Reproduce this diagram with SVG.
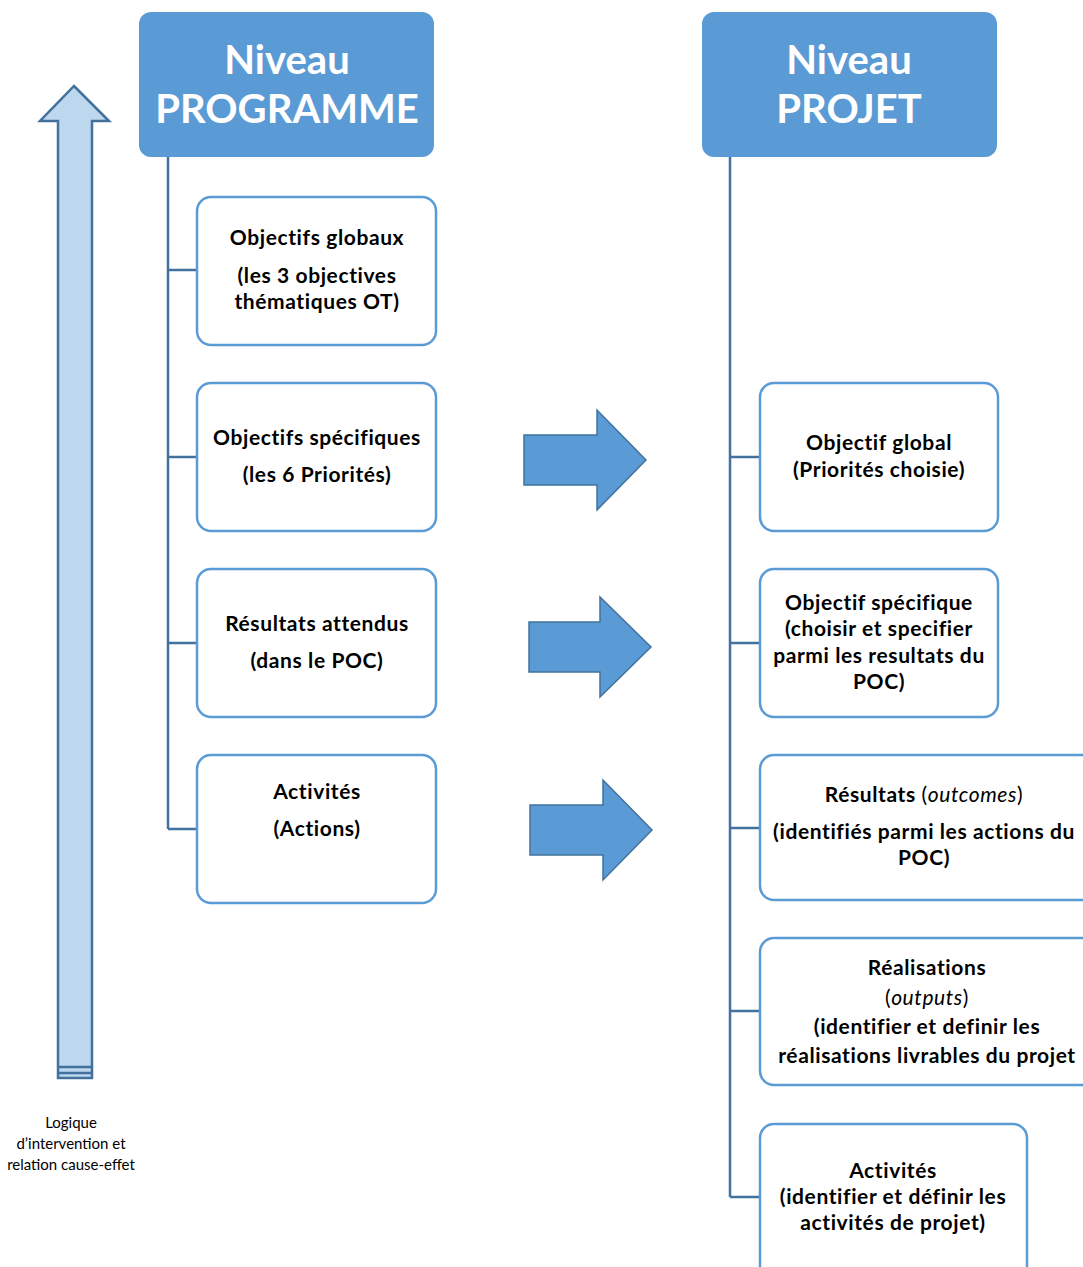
<svg xmlns="http://www.w3.org/2000/svg" width="1083" height="1267" viewBox="0 0 1083 1267">
<style>
.hdr{fill:#5B9BD5;}
.hdrt{font-family:Lato,"Open Sans",sans-serif;font-weight:bold;font-size:40px;fill:#fff;text-anchor:middle;}
.box{fill:#fff;stroke:#5B9BD5;stroke-width:2.5;}
.t{font-family:Lato,"Open Sans",sans-serif;font-weight:bold;font-size:21px;letter-spacing:0.6px;fill:#000;text-anchor:middle;}
.n{font-weight:normal;}
.con{fill:none;stroke:#41719C;stroke-width:2.5;}
.arr{fill:#5B9BD5;stroke:#41719C;stroke-width:1.5;}
.small{font-family:Lato,"Open Sans",sans-serif;font-size:15px;fill:#000;text-anchor:middle;}
</style>
<rect width="1083" height="1267" fill="#fff"/>
<g id="connectors">
<path class="con" d="M168 157V829M168 270H197M168 457H197M168 643H197M168 829H197"/>
<path class="con" d="M730 157V1197M730 457H760M730 643H760M730 828H760M730 1011H760M730 1197H760"/>
</g>
<g id="logic-arrow">
<path d="M74 86L109 121H92V1078H58V121H40Z" fill="#BDD7EE" stroke="#41719C" stroke-width="2.5"/>
<path d="M58 1067H92M58 1073H92" stroke="#41719C" stroke-width="2.5"/>
<text class="small" x="71" y="1128">Logique</text>
<text class="small" x="71" y="1149">d’intervention et</text>
<text class="small" x="71" y="1170">relation cause-effet</text>
</g>
<g id="hdr-programme">
<rect class="hdr" x="139" y="12" width="295" height="145" rx="12"/>
<text class="hdrt" x="287" y="74">Niveau</text>
<text class="hdrt" x="287" y="123">PROGRAMME</text>
</g>
<g id="hdr-projet">
<rect class="hdr" x="702" y="12" width="295" height="145" rx="12"/>
<text class="hdrt" x="849" y="74">Niveau</text>
<text class="hdrt" x="849" y="123">PROJET</text>
</g>
<g id="p1">
<rect class="box" x="197" y="197" width="239" height="148" rx="14"/>
<text class="t" x="317" y="245">Objectifs globaux</text>
<text class="t" x="317" y="283">(les 3 objectives</text>
<text class="t" x="317" y="309">thématiques OT)</text>
</g>
<g id="p2">
<rect class="box" x="197" y="383" width="239" height="148" rx="14"/>
<text class="t" x="317" y="445">Objectifs spécifiques</text>
<text class="t" x="317" y="482">(les 6 Priorités)</text>
</g>
<g id="p3">
<rect class="box" x="197" y="569" width="239" height="148" rx="14"/>
<text class="t" x="317" y="631">Résultats attendus</text>
<text class="t" x="317" y="668">(dans le POC)</text>
</g>
<g id="p4">
<rect class="box" x="197" y="755" width="239" height="148" rx="14"/>
<text class="t" x="317" y="799">Activités</text>
<text class="t" x="317" y="836">(Actions)</text>
</g>
<g id="arrows">
<path class="arr" d="M524 435H597V410L646 460L597 510V485H524Z"/>
<path class="arr" d="M529 622H600V597L651 647L600 697V672H529Z"/>
<path class="arr" d="M530 805H603V780L652 830L603 880V855H530Z"/>
</g>
<g id="r1">
<rect class="box" x="760" y="383" width="238" height="148" rx="14"/>
<text class="t" x="879" y="450">Objectif global</text>
<text class="t" x="879" y="477">(Priorités choisie)</text>
</g>
<g id="r2">
<rect class="box" x="760" y="569" width="238" height="148" rx="14"/>
<text class="t" x="879" y="610">Objectif spécifique</text>
<text class="t" x="879" y="636">(choisir et specifier</text>
<text class="t" x="879" y="663">parmi les resultats du</text>
<text class="t" x="879" y="689">POC)</text>
</g>
<g id="r3">
<rect class="box" x="760" y="755" width="340" height="145" rx="14"/>
<text class="t" x="924" y="802">Résultats <tspan class="n">(<tspan font-style="italic">outcomes</tspan>)</tspan></text>
<text class="t" x="924" y="839">(identifiés parmi les actions du</text>
<text class="t" x="924" y="865">POC)</text>
</g>
<g id="r4">
<rect class="box" x="760" y="938" width="340" height="147" rx="14"/>
<text class="t" x="927" y="975">Réalisations</text>
<text class="t n" x="927" y="1005">(<tspan font-style="italic">outputs</tspan>)</text>
<text class="t" x="927" y="1034">(identifier et definir les</text>
<text class="t" x="927" y="1063">réalisations livrables du projet</text>
</g>
<g id="r5">
<rect class="box" x="760" y="1124" width="267" height="160" rx="14"/>
<text class="t" x="893" y="1178">Activités</text>
<text class="t" x="893" y="1204">(identifier et définir les</text>
<text class="t" x="893" y="1230">activités de projet)</text>
</g>
</svg>
